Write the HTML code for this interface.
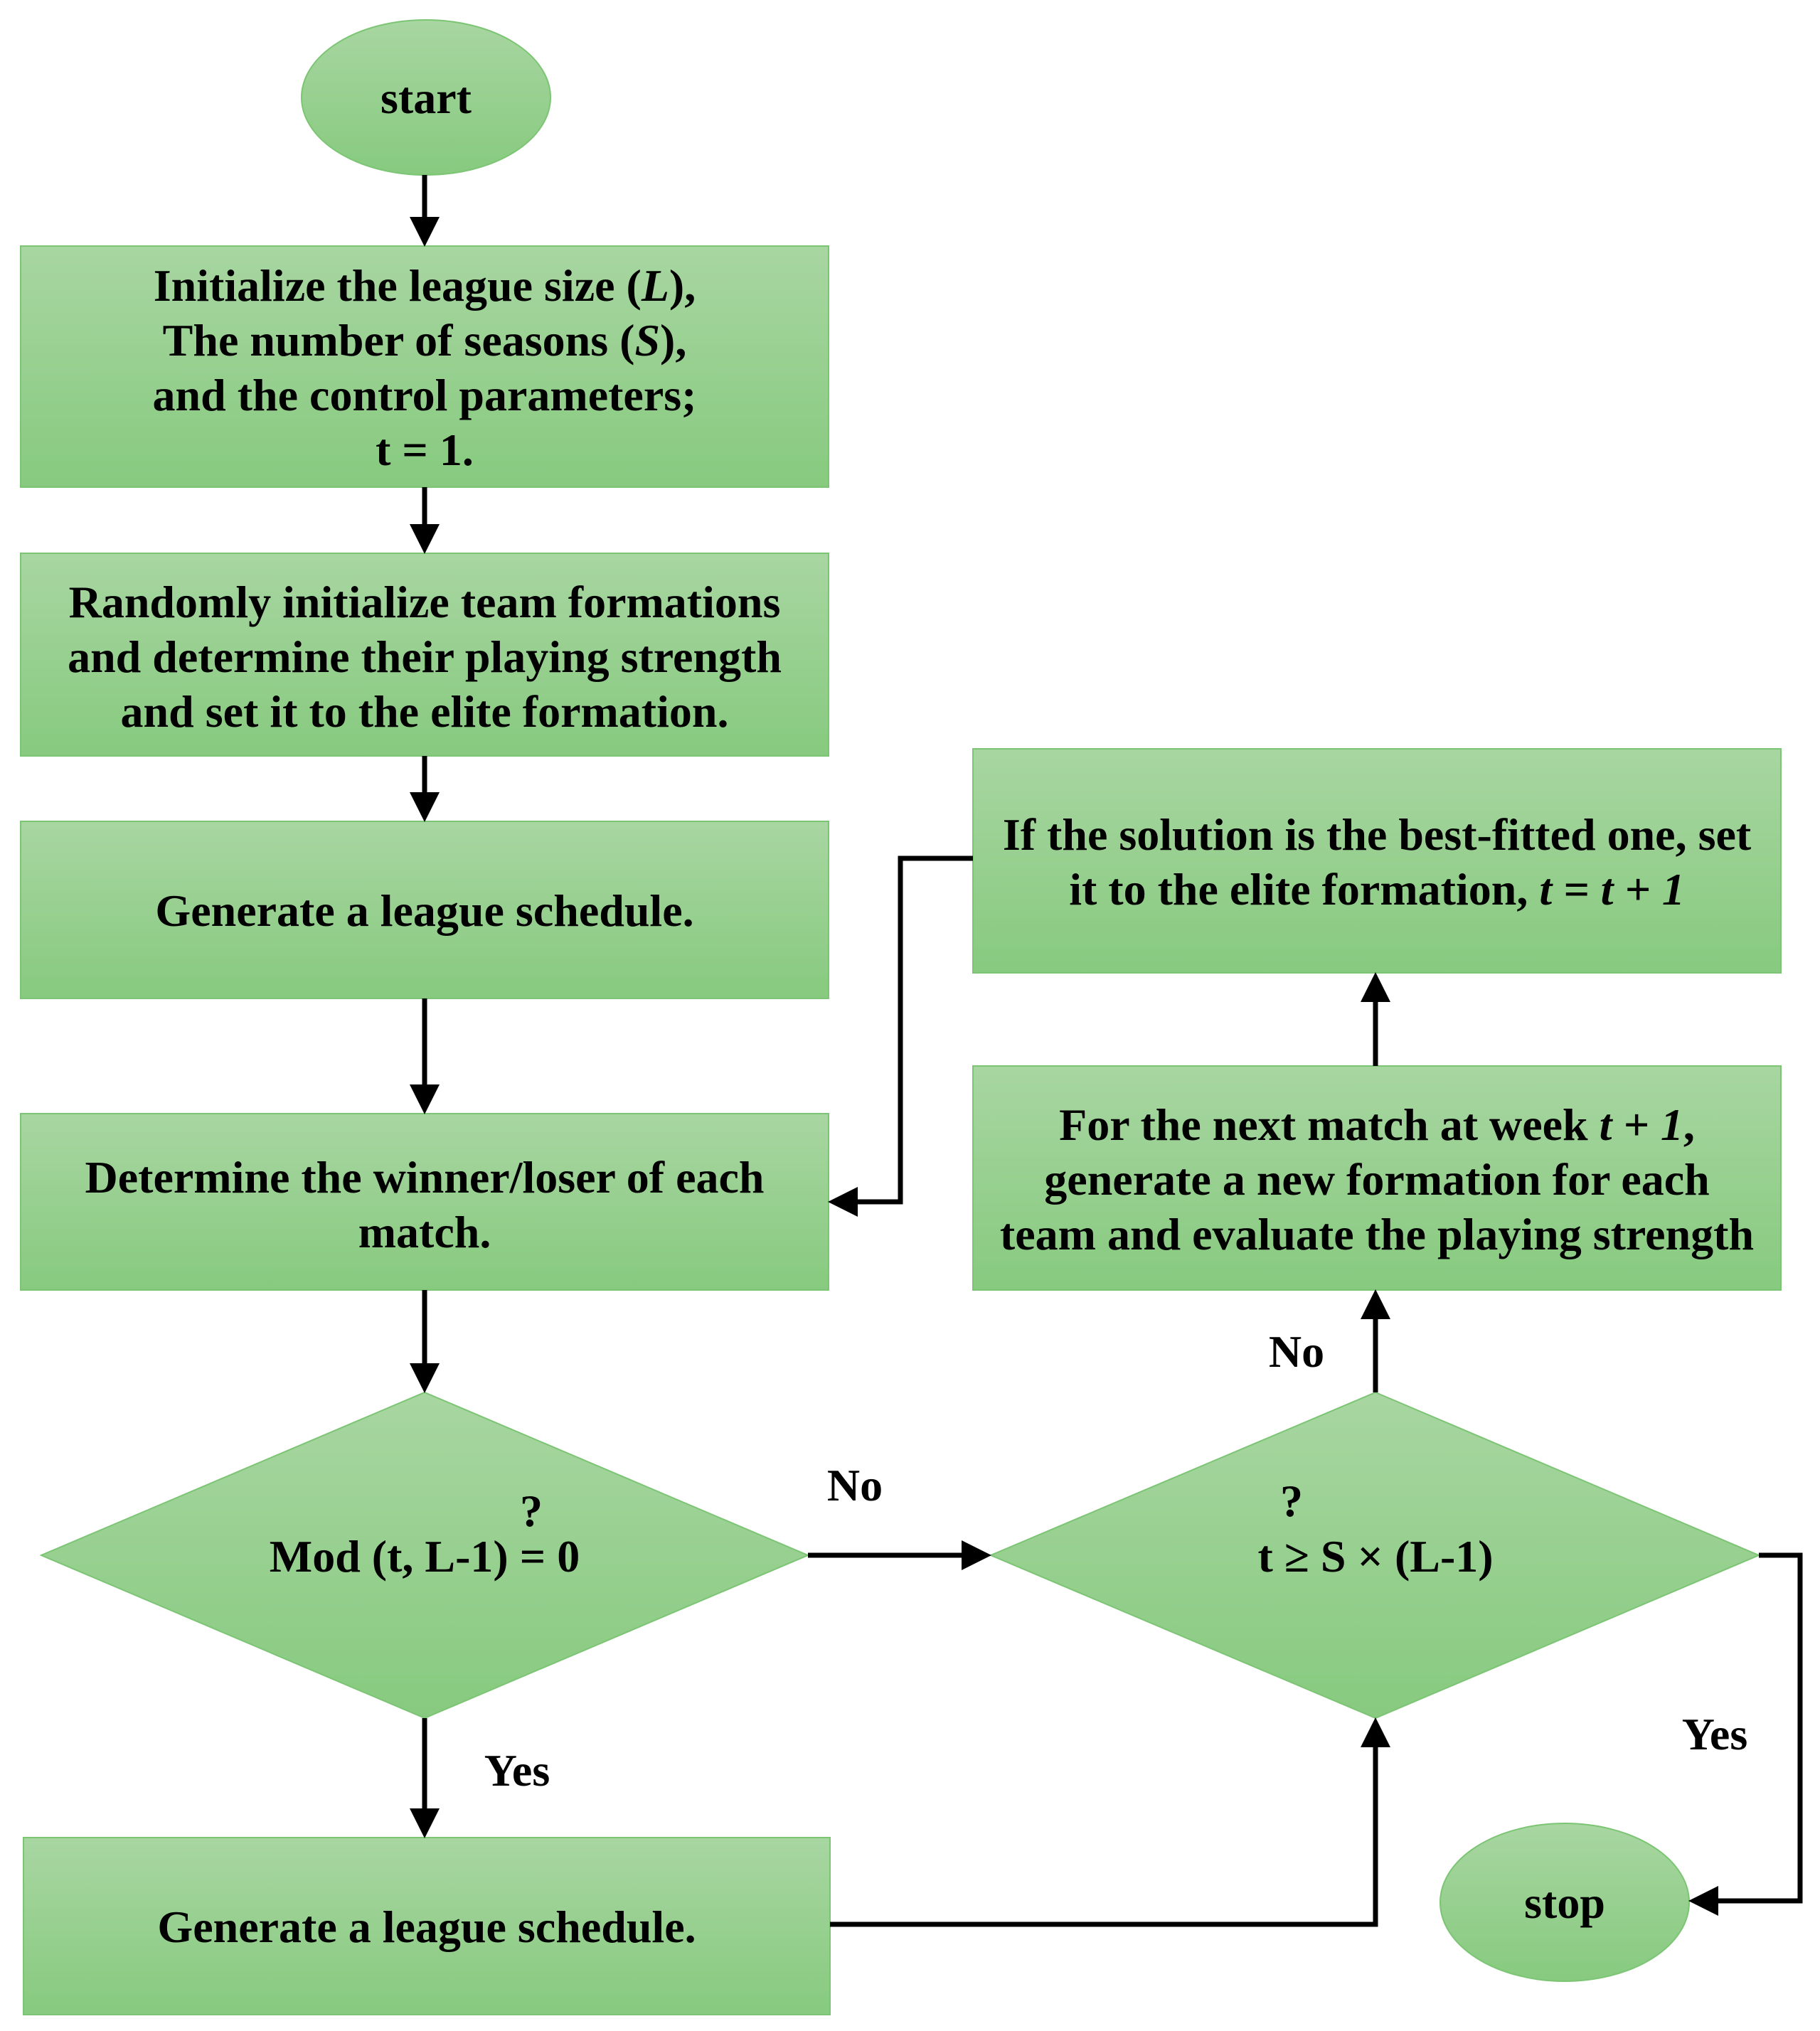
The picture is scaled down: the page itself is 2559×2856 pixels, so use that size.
<!DOCTYPE html>
<html><head><meta charset="utf-8"><style>
html,body{margin:0;padding:0;background:#fff}
svg{display:block}
text{font-family:"Liberation Serif",serif;font-weight:bold;font-size:64px;fill:#000}
</style></head><body>
<svg width="2559" height="2856" viewBox="0 0 2559 2856" xmlns="http://www.w3.org/2000/svg">
<defs>
<linearGradient id="g" x1="0" y1="0" x2="0" y2="1">
<stop offset="0" stop-color="#a8d6a1"/><stop offset="1" stop-color="#87ca7f"/>
</linearGradient>
<marker id="a" markerWidth="6" markerHeight="6" refX="5" refY="3" orient="auto" markerUnits="strokeWidth">
<path d="M0,0 L6,3 L0,6 z" fill="#000"/>
</marker>
</defs>
<g fill="url(#g)" stroke="#7cc574" stroke-width="2">
<ellipse cx="599" cy="137" rx="175" ry="109"/>
<rect x="29" y="346" width="1136" height="339"/>
<rect x="29" y="778" width="1136" height="285"/>
<rect x="29" y="1155" width="1136" height="249"/>
<rect x="29" y="1566" width="1136" height="248"/>
<polygon points="597,1958 1136,2187 597,2416 58,2187"/>
<rect x="33" y="2584" width="1134" height="249"/>
<rect x="1368" y="1053" width="1136" height="315"/>
<rect x="1368" y="1499" width="1136" height="315"/>
<polygon points="1934,1958 2473,2187 1934,2416 1393,2187"/>
<ellipse cx="2200" cy="2675" rx="175" ry="111"/>
</g>
<g stroke="#000" stroke-width="7" fill="none" marker-end="url(#a)">
<line x1="597" y1="246" x2="597" y2="340"/>
<line x1="597" y1="685" x2="597" y2="772"/>
<line x1="597" y1="1063" x2="597" y2="1149"/>
<line x1="597" y1="1404" x2="597" y2="1560"/>
<line x1="597" y1="1814" x2="597" y2="1952"/>
<line x1="597" y1="2416" x2="597" y2="2578"/>
<line x1="1136" y1="2187" x2="1387" y2="2187"/>
<polyline points="1167,2706 1934,2706 1934,2422"/>
<line x1="1934" y1="1958" x2="1934" y2="1820"/>
<line x1="1934" y1="1499" x2="1934" y2="1374"/>
<polyline points="1368,1207 1266,1207 1266,1690 1171,1690"/>
<polyline points="2473,2187 2531,2187 2531,2673 2381,2673"/>
</g>
<g text-anchor="middle">
<text x="599" y="159">start</text>
<text x="597" y="423">Initialize the league size (<tspan font-style="italic">L</tspan>),</text>
<text x="597" y="500">The number of seasons (<tspan font-style="italic">S</tspan>),</text>
<text x="597" y="577">and the control parameters;</text>
<text x="597" y="654">t = 1.</text>
<text x="597" y="868">Randomly initialize team formations</text>
<text x="597" y="945">and determine their playing strength</text>
<text x="597" y="1022">and set it to the elite formation.</text>
<text x="597" y="1302">Generate a league schedule.</text>
<text x="597" y="1677">Determine the winner/loser of each</text>
<text x="597" y="1754">match.</text>
<text x="597" y="2210">Mod (t, L-1) = 0</text>
<text x="747" y="2146" font-size="52">?</text>
<text x="600" y="2731">Generate a league schedule.</text>
<text x="1936" y="1195">If the solution is the best-fitted one, set</text>
<text x="1936" y="1272">it to the elite formation, <tspan font-style="italic">t = t + 1</tspan></text>
<text x="1936" y="1603">For the next match at week <tspan font-style="italic">t + 1</tspan>,</text>
<text x="1936" y="1680">generate a new formation for each</text>
<text x="1936" y="1757">team and evaluate the playing strength</text>
<text x="1934" y="2210">t ≥ S × (L-1)</text>
<text x="1816" y="2132" font-size="52">?</text>
<text x="2200" y="2697">stop</text>
<text x="1202" y="2110">No</text>
<text x="1823" y="1922">No</text>
<text x="727" y="2511">Yes</text>
<text x="2411" y="2460">Yes</text>
</g>
</svg>
</body></html>
